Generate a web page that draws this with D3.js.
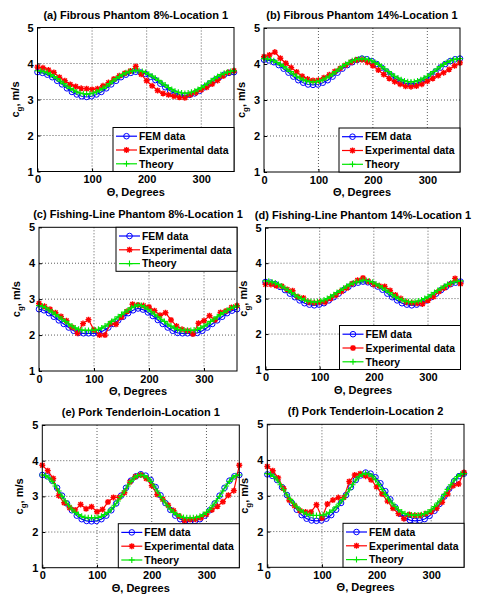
<!DOCTYPE html>
<html><head><meta charset="utf-8">
<script src="https://cdn.jsdelivr.net/npm/d3@7/dist/d3.min.js"></script>
<style>
body{margin:0;background:#fff}
svg text{font-family:"Liberation Sans",Arial,sans-serif;font-weight:bold;fill:#000}
</style>
</head><body>
<svg id="chart" width="478" height="600"></svg>
<script>
// ---------------- data ----------------
const titles = [
  "(a) Fibrous Phantom 8%-Location 1",
  "(b) Fibrous Phantom 14%-Location 1",
  "(c) Fishing-Line Phantom 8%-Location 1",
  "(d) Fishing-Line Phantom 14%-Location 1",
  "(e) Pork Tenderloin-Location 1",
  "(f) Pork Tenderloin-Location 2"
];
const seriesNames = ["FEM data", "Experimental data", "Theory"];
const xTicks = [0, 100, 200, 300];
const yTicks = [1, 2, 3, 4, 5];
const xLabel = "Θ, Degrees";

const thetaFEM = d3.range(0, 361, 9);     // 41 angles
const thetaExp = d3.range(0, 361, 10);    // 37 angles
const thetaTheory = d3.range(0, 361, 6);  // 61 angles

// (a)
const femA = [3.76,3.74,3.69,3.62,3.52,3.42,3.31,3.21,3.14,3.09,3.07, 3.09,3.14,3.21,3.31,3.42,3.52,3.62,3.69,3.74,
  3.77,3.75,3.71,3.63,3.54,3.44,3.34,3.24,3.17,3.13,3.11, 3.13,3.17,3.24,3.34,3.44,3.53,3.62,3.69,3.74,3.76];
const expA = [3.90,3.88,3.82,3.75,3.62,3.52,3.42,3.36,3.31,3.30,3.28,3.30,3.38,3.47,3.57,3.66,3.73,3.79,
  3.92,3.70,3.52,3.38,3.25,3.17,3.13,3.09,3.06,3.05,3.13,3.19,3.27,3.34,3.43,3.53,3.65,3.75,3.80];
const theoryA = [3.80,3.79,3.77,3.74,3.69,3.64,3.58,3.51,3.44,3.37,3.31,3.26,3.21,3.18,3.16,3.15,3.16,3.18,3.21,3.26,3.31,3.37,3.44,3.51,3.58,3.64,3.69,3.74,3.77,3.79,
  3.81,3.80,3.78,3.75,3.70,3.65,3.59,3.53,3.46,3.40,3.33,3.28,3.23,3.20,3.18,3.17,
  3.18,3.20,3.23,3.28,3.33,3.39,3.45,3.52,3.58,3.64,3.69,3.73,3.76,3.78,3.80];
// (b)
const femB = [4.12,4.10,4.05,3.97,3.87,3.76,3.65,3.55,3.48,3.43,3.42, 3.43,3.48,3.55,3.65,3.76,3.87,3.97,4.05,4.11,
  4.15,4.13,4.08,4.00,3.90,3.79,3.68,3.58,3.51,3.46,3.45, 3.46,3.51,3.58,3.68,3.79,3.90,4.00,4.08,4.13,4.15];
const expB = [4.20,4.25,4.33,4.16,4.02,3.90,3.78,3.66,3.58,3.54,3.55,3.62,3.70,3.79,3.88,3.97,4.05,4.11,
  4.12,4.05,3.95,3.83,3.71,3.60,3.51,3.44,3.38,3.37,3.39,3.44,3.52,3.60,3.68,3.76,3.85,3.95,4.03];
const theoryB = [4.15,4.14,4.12,4.09,4.04,3.99,3.93,3.86,3.79,3.72,3.66,3.61,3.56,3.53,3.51,3.50,3.51,3.53,3.56,3.61,3.66,3.72,3.79,3.86,3.93,3.99,4.04,4.09,4.12,4.14,
  4.15,4.14,4.12,4.09,4.04,3.99,3.93,3.86,3.79,3.72,3.66,3.61,3.56,3.53,3.51,3.50,
  3.51,3.53,3.56,3.61,3.66,3.72,3.79,3.86,3.93,3.99,4.04,4.09,4.12,4.14,4.15];
// (c)
const femC = [2.72,2.69,2.61,2.51,2.41,2.31,2.21,2.12,2.06,2.05,2.05, 2.05,2.06,2.12,2.21,2.31,2.41,2.51,2.61,2.69,
  2.74,2.71,2.63,2.53,2.42,2.31,2.21,2.12,2.06,2.05,2.05, 2.05,2.06,2.12,2.21,2.31,2.41,2.51,2.61,2.68,2.72];
const expC = [2.88,2.80,2.72,2.62,2.52,2.40,2.22,2.05,2.32,2.43,2.14,2.00,2.00,2.32,2.30,2.50,2.66,2.86,
  2.84,2.82,2.78,2.68,2.55,2.62,2.42,2.25,2.16,2.12,2.03,2.33,2.40,2.54,2.42,2.63,2.67,2.77,2.82];
const theoryC = [2.82,2.80,2.76,2.70,2.64,2.57,2.51,2.44,2.38,2.31,2.25,2.20,2.16,2.14,2.13,2.13,
  2.13,2.14,2.16,2.20,2.25,2.31,2.38,2.44,2.51,2.57,2.64,2.70,2.76,2.80,
  2.84,2.82,2.78,2.72,2.65,2.58,2.51,2.44,2.38,2.31,2.25,2.20,2.16,2.14,2.13,2.13,
  2.13,2.14,2.16,2.20,2.25,2.31,2.38,2.44,2.51,2.57,2.63,2.69,2.74,2.78,2.81];
// (d)
const femD = [3.47,3.45,3.41,3.33,3.24,3.14,3.04,2.95,2.87,2.83,2.81, 2.83,2.87,2.95,3.04,3.14,3.24,3.33,3.41,3.45,
  3.48,3.46,3.41,3.34,3.25,3.14,3.04,2.95,2.87,2.83,2.81, 2.83,2.87,2.95,3.04,3.14,3.24,3.33,3.41,3.45,3.48];
const expD = [3.40,3.40,3.36,3.35,3.26,3.22,3.05,3.02,2.90,2.88,2.90,2.90,3.00,3.10,3.20,3.30,3.42,3.52,
  3.58,3.48,3.40,3.36,3.34,3.23,3.10,3.00,2.90,2.88,2.87,2.85,2.95,3.05,3.20,3.30,3.40,3.57,3.42];
const theoryD = [3.50,3.49,3.47,3.44,3.40,3.35,3.29,3.23,3.17,3.11,3.05,3.00,2.96,2.93,2.91,2.90,2.91,2.93,2.96,3.00,3.05,3.11,3.17,3.23,3.29,3.35,3.40,3.44,3.47,3.49,
  3.52,3.51,3.49,3.46,3.41,3.36,3.30,3.24,3.17,3.11,3.05,3.00,2.96,2.93,2.91,2.90,
  2.91,2.93,2.96,3.00,3.05,3.11,3.17,3.23,3.29,3.35,3.40,3.44,3.47,3.49,3.50];
// (e)
const femE = [3.60,3.56,3.44,3.24,3.02,2.80,2.61,2.46,2.36,2.31,2.30, 2.31,2.36,2.46,2.61,2.80,3.02,3.24,3.44,3.56,
  3.62,3.58,3.46,3.26,3.03,2.81,2.62,2.46,2.36,2.31,2.30, 2.31,2.36,2.46,2.61,2.80,3.02,3.24,3.44,3.56,3.60];
const expE = [3.87,3.72,3.50,3.02,2.82,2.68,2.62,2.77,2.65,2.71,2.57,2.63,2.84,2.97,2.97,3.10,3.40,3.55,
  3.60,3.50,3.30,3.05,2.92,2.75,2.60,2.45,2.32,2.35,2.36,2.40,2.50,2.62,2.72,2.85,3.03,3.16,3.87];
const theoryE = [3.60,3.58,3.52,3.42,3.29,3.15,3.00,2.87,2.75,2.64,2.55,2.49,2.44,2.41,2.40,2.40,
  2.40,2.41,2.44,2.49,2.55,2.64,2.75,2.87,3.00,3.15,3.29,3.42,3.52,3.58,
  3.60,3.58,3.52,3.42,3.29,3.15,3.00,2.87,2.75,2.64,2.55,2.49,2.44,2.41,2.40,2.40,
  2.40,2.41,2.44,2.49,2.55,2.64,2.75,2.87,3.00,3.15,3.29,3.42,3.52,3.58,3.60];
// (f)
const femF = [3.60,3.56,3.44,3.24,3.02,2.80,2.61,2.46,2.36,2.31,2.30, 2.31,2.36,2.46,2.61,2.80,3.02,3.24,3.44,3.57,
  3.65,3.62,3.52,3.35,3.13,2.90,2.68,2.50,2.38,2.32,2.30, 2.31,2.35,2.44,2.58,2.77,2.98,3.20,3.41,3.55,3.62];
const expF = [3.82,3.70,3.50,3.20,2.88,2.72,2.58,2.55,2.55,2.75,2.38,2.77,2.88,2.95,2.95,3.40,3.58,3.62,
  3.55,3.45,3.25,3.05,2.85,2.65,2.50,2.36,2.48,2.45,2.45,2.50,2.55,2.65,2.82,3.05,3.28,3.33,3.65];
const theoryF = [3.62,3.60,3.54,3.44,3.31,3.17,3.03,2.90,2.79,2.69,2.60,2.54,2.49,2.46,2.45,2.45,
  2.45,2.46,2.49,2.54,2.60,2.69,2.79,2.90,3.03,3.17,3.31,3.44,3.54,3.60,
  3.63,3.61,3.55,3.45,3.32,3.18,3.04,2.91,2.80,2.70,2.61,2.55,2.50,2.47,2.46,2.46,
  2.46,2.47,2.50,2.55,2.61,2.70,2.80,2.91,3.04,3.18,3.31,3.44,3.54,3.60,3.62];

const femSets = [femA, femB, femC, femD, femE, femF];
const expSets = [expA, expB, expC, expD, expE, expF];
const theorySets = [theoryA, theoryB, theoryC, theoryD, theoryE, theoryF];

// ---------------- layout ----------------
const boxes = [
  {x0: 37.5, x1: 234, y0: 27.5, y1: 171.5, leg: "se"},
  {x0: 264, x1: 460, y0: 28, y1: 172, leg: "se"},
  {x0: 39, x1: 237, y0: 227.3, y1: 371, leg: "ne"},
  {x0: 265.5, x1: 460.5, y0: 227.7, y1: 369.5, leg: "se"},
  {x0: 42.3, x1: 239.3, y0: 425, y1: 567.7, leg: "se"},
  {x0: 267.3, x1: 464, y0: 424.3, y1: 567.3, leg: "se"}
];
const colFEM = "#0000ff", colExp = "#ff0000", colTh = "#00e600";
const FS = 11, LFS = 10.4;

const svg = d3.select("#chart");
const starD = "M-3,0L3,0M0,-3L0,3M-2.2,-2.2L2.2,2.2M-2.2,2.2L2.2,-2.2";
const plusD = "M-3,0L3,0M0,-3L0,3";

function drawMarkers(g, type, pts) {
  if (type === "fem") {
    g.selectAll(null).data(pts).join("circle")
      .attr("cx", d => d[0]).attr("cy", d => d[1]).attr("r", 2.8)
      .attr("fill", "none").attr("stroke", colFEM).attr("stroke-width", 1);
  } else if (type === "exp") {
    g.selectAll(null).data(pts).join("path")
      .attr("transform", d => `translate(${d[0]},${d[1]})`).attr("d", starD)
      .attr("fill", "none").attr("stroke", colExp).attr("stroke-width", 1.4);
  } else {
    g.selectAll(null).data(pts).join("path")
      .attr("transform", d => `translate(${d[0]},${d[1]})`).attr("d", plusD)
      .attr("fill", "none").attr("stroke", colTh).attr("stroke-width", 1.1);
  }
}

boxes.forEach((b, i) => {
  const g = svg.append("g");
  const x = d3.scaleLinear().domain([0, 360]).range([b.x0, b.x1]);
  const y = d3.scaleLinear().domain([1, 5]).range([b.y1, b.y0]);

  // grid
  g.selectAll(null).data(xTicks.filter(t => t > 0)).join("line")
    .attr("x1", d => x(d)).attr("x2", d => x(d)).attr("y1", b.y0).attr("y2", b.y1)
    .attr("stroke", "#333").attr("stroke-width", 0.8).attr("stroke-dasharray", "1,2");
  g.selectAll(null).data(yTicks.filter(t => t > 1 && t < 5)).join("line")
    .attr("y1", d => y(d)).attr("y2", d => y(d)).attr("x1", b.x0).attr("x2", b.x1)
    .attr("stroke", "#333").attr("stroke-width", 0.8).attr("stroke-dasharray", "1,2");

  // axes
  const ax = g.append("g").attr("transform", `translate(0,${b.y1})`)
    .call(d3.axisBottom(x).tickValues(xTicks).tickFormat(d3.format("d")).tickSizeInner(-3).tickSizeOuter(0).tickPadding(4));
  const ay = g.append("g").attr("transform", `translate(${b.x0},0)`)
    .call(d3.axisLeft(y).tickValues(yTicks).tickFormat(d3.format("d")).tickSizeInner(-3).tickSizeOuter(0).tickPadding(4));
  [ax, ay].forEach(a => {
    a.select(".domain").remove();
    a.selectAll("text").attr("font-size", FS).attr("font-family", null).style("fill", "#000");
    a.selectAll("line").attr("stroke", "#000");
  });

  // series
  const line = d3.line().x(d => d[0]).y(d => d[1]);
  const femPts = thetaFEM.map((t, k) => [x(t), y(femSets[i][k])]);
  const expPts = thetaExp.map((t, k) => [x(t), y(expSets[i][k])]);
  const thPts = thetaTheory.map((t, k) => [x(t), y(theorySets[i][k])]);

  g.append("path").attr("d", line(femPts)).attr("fill", "none").attr("stroke", colFEM).attr("stroke-width", 1.2);
  drawMarkers(g.append("g"), "fem", femPts);
  g.append("path").attr("d", line(expPts)).attr("fill", "none").attr("stroke", colExp).attr("stroke-width", 1.2);
  drawMarkers(g.append("g"), "exp", expPts);
  g.append("path").attr("d", line(thPts)).attr("fill", "none").attr("stroke", colTh).attr("stroke-width", 1.2);
  drawMarkers(g.append("g"), "th", thPts);

  // frame
  g.append("rect").attr("x", b.x0).attr("y", b.y0).attr("width", b.x1 - b.x0).attr("height", b.y1 - b.y0)
    .attr("fill", "none").attr("stroke", "#000").attr("stroke-width", 1);

  // title
  g.append("text").attr("x", (b.x0 + b.x1) / 2).attr("y", b.y0 - 9)
    .attr("text-anchor", "middle").attr("font-size", FS).text(titles[i]);
  // x label
  g.append("text").attr("x", (b.x0 + b.x1) / 2).attr("y", b.y1 + 24)
    .attr("text-anchor", "middle").attr("font-size", FS).text(xLabel);
  // y label
  const yl = g.append("text")
    .attr("transform", `translate(${b.x0 - 19},${(b.y0 + b.y1) / 2}) rotate(-90)`)
    .attr("text-anchor", "middle").attr("font-size", FS);
  yl.append("tspan").text("c");
  yl.append("tspan").attr("dy", 3).attr("font-size", 8).text("g");
  yl.append("tspan").attr("dy", -3).text(", m/s");

  // legend
  const lw = 121, lh = 44;
  const lx = b.x1 - lw;
  const ly = b.leg === "ne" ? b.y0 : b.y1 - lh;
  const lg = g.append("g").attr("transform", `translate(${lx},${ly})`);
  lg.append("rect").attr("width", lw).attr("height", lh).attr("fill", "#fff").attr("stroke", "#000").attr("stroke-width", 1);
  const types = ["fem", "exp", "th"], cols = [colFEM, colExp, colTh];
  seriesNames.forEach((nm, k) => {
    const ry = 8.7 + k * 13.8;
    lg.append("line").attr("x1", 3).attr("x2", 24).attr("y1", ry).attr("y2", ry)
      .attr("stroke", cols[k]).attr("stroke-width", 1.2);
    drawMarkers(lg.append("g"), types[k], [[13.5, ry]]);
    lg.append("text").attr("x", 26).attr("y", ry).attr("dy", "0.36em").attr("font-size", LFS).text(nm);
  });
});
</script>
</body></html>
